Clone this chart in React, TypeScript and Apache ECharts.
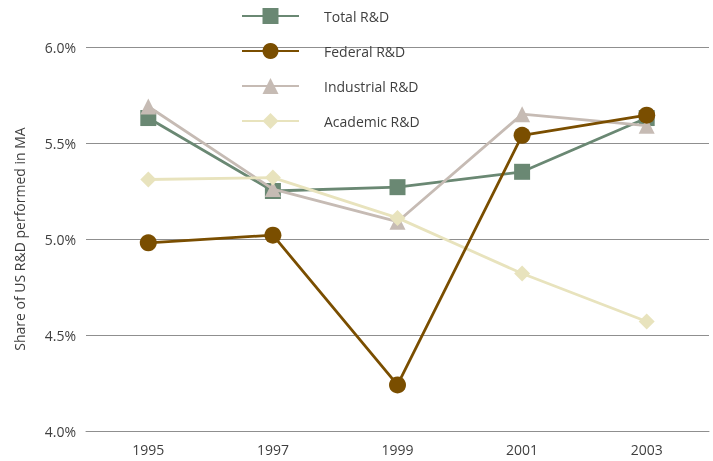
import React, { useEffect, useRef } from "react";
import * as echarts from "echarts";

const years = ["1995", "1997", "1999", "2001", "2003"];
const totalRD = [5.63, 5.25, 5.27, 5.35, 5.63];
const federalRD = [4.98, 5.02, 4.24, 5.54, 5.645];
const industrialRD = [5.69, 5.26, 5.09, 5.65, 5.59];
const academicRD = [5.31, 5.32, 5.11, 4.82, 4.57];

const FONT = "'Open Sans', 'Noto Sans', sans-serif";
const TEXT = "#3f3f3f";
const GRID = "#8f8f8f";

export default function App() {
  const ref = useRef<HTMLDivElement>(null);

  useEffect(() => {
    if (!ref.current) return;
    const chart = echarts.init(ref.current, null, { renderer: "svg" });

    const mk = (
      name: string,
      data: number[],
      color: string,
      symbol: string,
      size: number,
      z: number
    ) => ({
      name,
      type: "line",
      data,
      z,
      symbol,
      symbolSize: size,
      showAllSymbol: true,
      lineStyle: { color, width: 2.8 },
      itemStyle: { color, borderWidth: 0 },
      emphasis: { disabled: true },
    });

    chart.setOption({
      animation: false,
      textStyle: { fontFamily: FONT },
      grid: { left: 86, right: 4, top: 47, bottom: 30 },
      legend: {
        orient: "vertical",
        left: 236,
        top: 3,
        itemWidth: 57,
        itemHeight: 20,
        itemGap: 19,
        selectedMode: false,
        data: ["Total R&D", "Federal R&D", "Industrial R&D", "Academic R&D"],
        textStyle: {
          fontFamily: FONT,
          fontSize: 14,
          color: TEXT,
          padding: [0, 0, 0, 20],
        },
      },
      xAxis: {
        type: "category",
        data: years,
        boundaryGap: true,
        axisLine: { lineStyle: { color: GRID, width: 1 } },
        axisTick: { show: false },
        axisLabel: { color: TEXT, fontSize: 14, margin: 11, fontFamily: FONT },
      },
      yAxis: {
        type: "value",
        min: 4,
        max: 6,
        interval: 0.5,
        name: "Share of US R&D performed in MA",
        nameLocation: "middle",
        nameGap: 60,
        nameTextStyle: { color: TEXT, fontSize: 14, fontFamily: FONT },
        axisLine: { show: false },
        axisTick: { show: false },
        axisLabel: {
          color: TEXT,
          fontSize: 14,
          margin: 10,
          fontFamily: FONT,
          formatter: (v: number) => v.toFixed(1) + "%",
        },
        splitLine: { lineStyle: { color: GRID, width: 1 } },
      },
      series: [
        mk("Total R&D", totalRD, "#6a8873", "rect", 16, 2),
        mk("Federal R&D", federalRD, "#7a4e00", "circle", 17, 5),
        mk("Industrial R&D", industrialRD, "#c6bbb4", "triangle", 16, 3),
        mk("Academic R&D", academicRD, "#e8e3bd", "diamond", 16, 4),
      ],
    });

    return () => chart.dispose();
  }, []);

  return (
    <div
      ref={ref}
      style={{ position: "fixed", left: 0, top: 0, width: 713, height: 461 }}
    />
  );
}
